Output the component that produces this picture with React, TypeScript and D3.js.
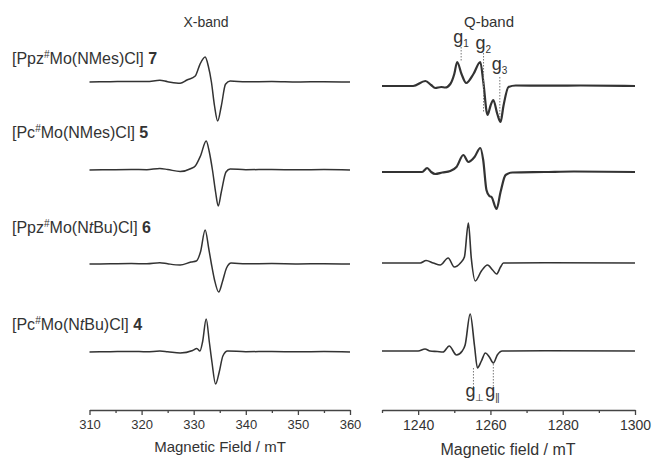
import React, { useEffect, useRef } from "react";
import * as d3 from "d3";

// spectra: [field mT, derivative intensity (a.u.)]
const xband7 = [[310, 0], [314, 0.3], [318, 0.6], [321, 0.4], [323.5, 1.7], [325, 0.3], [327.4, -1.3], [328.7, 2], [330.3, 6], [331.2, 17.7], [332.2, 25], [332.8, 16], [333.4, 0], [334.0, -24], [334.6, -39], [335.3, -24], [336.1, -2.3], [337, 1], [340, 0.2], [345, 0.5], [350, 0], [355, 0.3], [360, 0]];
const xband5 = [[310, 0], [314, 0.3], [318, 0.5], [321, 0.3], [323.5, 1.5], [325, 0.5], [327.4, -1.5], [329.5, 1.5], [330.3, 4], [331.3, 14], [332.4, 29], [333.0, 18], [333.6, 0], [334.2, -22], [334.7, -36], [335.3, -22], [336.2, -2], [337, 1], [340, 0.3], [345, 0.5], [350, 0.2], [355, 0.4], [360, 0]];
const xband6 = [[310, 0], [314, 0.2], [318, 0.4], [321, 0.3], [323.5, 1.3], [325, 0.2], [327.4, -1], [329.5, 2], [330.5, 3], [331.3, 12], [332.2, 34], [332.9, 15], [333.4, 0], [334.0, -16], [334.8, -28], [335.5, -18], [336.3, -4], [337.2, 1], [340, 0.2], [345, 0.4], [350, 0.1], [355, 0.3], [360, 0]];
const xband4 = [[310, 0], [314, 0.3], [318, 0.6], [321, 0.2], [323.5, 1], [325, 0.3], [327.4, -1], [329.8, 1.5], [330.6, 3.5], [331.2, 1], [331.7, 10], [332.4, 33], [333.0, 10], [333.5, -10], [334.2, -32], [334.9, -20], [335.6, -4], [336.5, 1], [340, 0.3], [345, 0.5], [350, 0.2], [355, 0.4], [360, 0]];

const qband7 = [[1230, 0], [1238.6, 0], [1242, 5], [1243.6, 1], [1244.7, -2], [1246.4, -1], [1247.5, -1.5], [1248.9, 2], [1250, 12], [1250.8, 24], [1252, 12], [1253.3, 3], [1255.3, 12], [1257.2, 24], [1258, 5], [1259.2, -29], [1260, -20], [1260.8, -14], [1261.9, -28], [1262.8, -36], [1263.6, -20], [1265, -1], [1267, 0.5], [1275, 0.3], [1285, 0.5], [1300, 0]];
const qband5 = [[1230, 0], [1241.1, 0], [1242.5, 4], [1243.6, 0], [1244.7, -2], [1246.7, -0.5], [1248.9, 1], [1250.6, 5], [1252.5, 17], [1253.9, 10], [1255.6, 15], [1257.2, 24], [1258, 12], [1258.9, -18], [1259.7, -24], [1260.3, -25], [1261.7, -37], [1262.8, -20], [1264.2, -3], [1266.1, -0.5], [1275, 0], [1283, 0.5], [1300, 0]];
const qband6 = [[1230, 0], [1240.6, 0], [1242.2, 2.5], [1244.2, 0], [1246.1, -2], [1248.3, 5], [1250, -4], [1251.7, 0], [1252.8, 6], [1253.9, 40], [1254.7, 5], [1255.8, -18], [1257.5, -8], [1259.2, -2], [1260.6, -7], [1261.7, -11], [1262.8, -4], [1263.6, 0], [1275, 0.3], [1300, 0]];
const qband4 = [[1230, 0], [1240, 0], [1241.9, 2], [1243.3, 0], [1245.3, -0.5], [1246.9, -1], [1248.6, 5], [1250.6, -4], [1252.2, 0], [1253, 6], [1254.4, 37], [1255.6, 5], [1256.4, -17], [1257.5, -10], [1258.6, -2], [1259.7, -6], [1260.8, -12], [1261.9, -4], [1263.3, 0], [1275, 0.3], [1300, 0]];

const xbandSpectra = [xband7, xband5, xband6, xband4];
const qbandSpectra = [qband7, qband5, qband6, qband4];

const xTicks = [310, 320, 330, 340, 350, 360];
const xMinorTicks = [315, 325, 335, 345, 355];
const qTicks = [1240, 1260, 1280, 1300];
const qMinorTicks = [1230, 1250, 1270, 1290];

const compoundLabels = [
  [["[Ppz", ""], ["#", "sup"], ["Mo(NMes)Cl] ", ""], ["7", "b"]],
  [["[Pc", ""], ["#", "sup"], ["Mo(NMes)Cl] ", ""], ["5", "b"]],
  [["[Ppz", ""], ["#", "sup"], ["Mo(N", ""], ["t", "i"], ["Bu)Cl] ", ""], ["6", "b"]],
  [["[Pc", ""], ["#", "sup"], ["Mo(N", ""], ["t", "i"], ["Bu)Cl] ", ""], ["4", "b"]],
];

// g-value markers: [name, subscript, row, field, top intensity, bottom intensity]
const gMarkers = [
  ["g", "1", 0, 1251.9, 39, 24],
  ["g", "2", 0, 1258.1, 33, -26],
  ["g", "3", 0, 1262.6, 9, -31],
  ["g", "\u22a5", 3, 1255.3, -17, -37],
  ["g", "||", 3, 1260.8, -13, -37],
];

const FONT = "'Liberation Sans', Arial, sans-serif";
const INK = "#333";

function App() {
  const ref = useRef(null);

  useEffect(() => {
    const svg = d3.select(ref.current);
    svg.selectAll("*").remove();

    const rowX = [82, 170, 264, 352];
    const rowQ = [86, 172, 263, 351];
    const labelY = [64, 138, 233, 330];
    const axisY = 410;

    const x = d3.scaleLinear().domain([310, 360]).range([89.5, 350]);
    const q = d3.scaleLinear().domain([1230, 1300]).range([382, 635]);
    const amp = d3.scaleLinear().domain([0, 40]).range([0, -40]);

    const drawPanel = (scale, spectra, rows, width) => {
      spectra.forEach((s, i) => {
        const line = d3.line()
          .x(d => scale(d[0]))
          .y(d => rows[i] + amp(d[1]))
          .curve(d3.curveMonotoneX);
        svg.append("path")
          .attr("d", line(s))
          .attr("fill", "none")
          .attr("stroke", INK)
          .attr("stroke-width", width[i])
          .attr("stroke-linejoin", "round");
      });
    };
    drawPanel(x, xbandSpectra, rowX, [1.5, 1.5, 1.5, 1.5]);
    drawPanel(q, qbandSpectra, rowQ, [2.2, 2.2, 1.6, 1.6]);

    // axes
    const axis = (scale, major, minor, fs) => {
      const g = svg.append("g").attr("transform", `translate(0,${axisY})`);
      g.call(d3.axisBottom(scale).tickValues(major).tickSize(5).tickSizeOuter(0)
        .tickPadding(5).tickFormat(d3.format("d")));
      g.append("g").call(d3.axisBottom(scale).tickValues(minor).tickSize(3).tickFormat(() => ""))
        .select(".domain").remove();
      g.selectAll("path,line").attr("stroke", "#444").attr("stroke-width", 1.3);
      g.selectAll("text").attr("fill", INK).style("font-family", FONT).style("font-size", fs + "px");
    };
    axis(x, xTicks, xMinorTicks, 13);
    axis(q, qTicks, qMinorTicks, 14);

    svg.append("text").attr("x", 220).attr("y", 452).attr("text-anchor", "middle")
      .style("font-family", FONT).style("font-size", "15px").attr("fill", INK)
      .text("Magnetic Field / mT");
    svg.append("text").attr("x", 508).attr("y", 455).attr("text-anchor", "middle")
      .style("font-family", FONT).style("font-size", "16px").attr("fill", INK)
      .text("Magnetic field / mT");

    svg.append("text").attr("x", 206).attr("y", 27).attr("text-anchor", "middle")
      .style("font-family", FONT).style("font-size", "14px").attr("fill", INK).text("X-band");
    svg.append("text").attr("x", 489).attr("y", 27).attr("text-anchor", "middle")
      .style("font-family", FONT).style("font-size", "15px").attr("fill", INK).text("Q-band");

    // compound labels
    compoundLabels.forEach((parts, i) => {
      const t = svg.append("text").attr("x", 12).attr("y", labelY[i])
        .style("font-family", FONT).style("font-size", "16px").attr("fill", INK);
      let shift = 0;
      parts.forEach(([txt, kind]) => {
        const sp = t.append("tspan").text(txt);
        if (kind === "sup") {
          sp.attr("dy", -6).style("font-size", "10px");
          shift = 6;
        } else if (shift) {
          sp.attr("dy", shift);
          shift = 0;
        }
        if (kind === "b") sp.style("font-weight", "bold");
        if (kind === "i") sp.style("font-style", "italic");
      });
    });

    // g markers
    gMarkers.forEach(([name, sub, row, field, top, bottom]) => {
      const gx = q(field);
      const y1 = rowQ[row] + amp(top);
      const y2 = rowQ[row] + amp(bottom);
      svg.append("line").attr("x1", gx).attr("x2", gx).attr("y1", y1).attr("y2", y2)
        .attr("stroke", "#777").attr("stroke-width", 1).attr("stroke-dasharray", "1.5,1.5");
      const isTop = row === 0;
      const ly = isTop ? (sub === "3" ? y1 - 7 : y1 - 4) : y2 + 9;
      const t = svg.append("text").attr("x", gx - 8).attr("y", ly)
        .style("font-family", FONT).style("font-size", "18px").attr("fill", INK);
      t.append("tspan").text(name);
      const s = t.append("tspan").attr("dy", 4).style("font-size", "10px").text(sub);
      if (sub === "||") s.style("letter-spacing", "-1px");
    });
  }, []);

  return (
    <svg ref={ref} width={654} height={460}
      style={{ position: "absolute", left: 0, top: 0, background: "#fff" }} />
  );
}

export default App;
